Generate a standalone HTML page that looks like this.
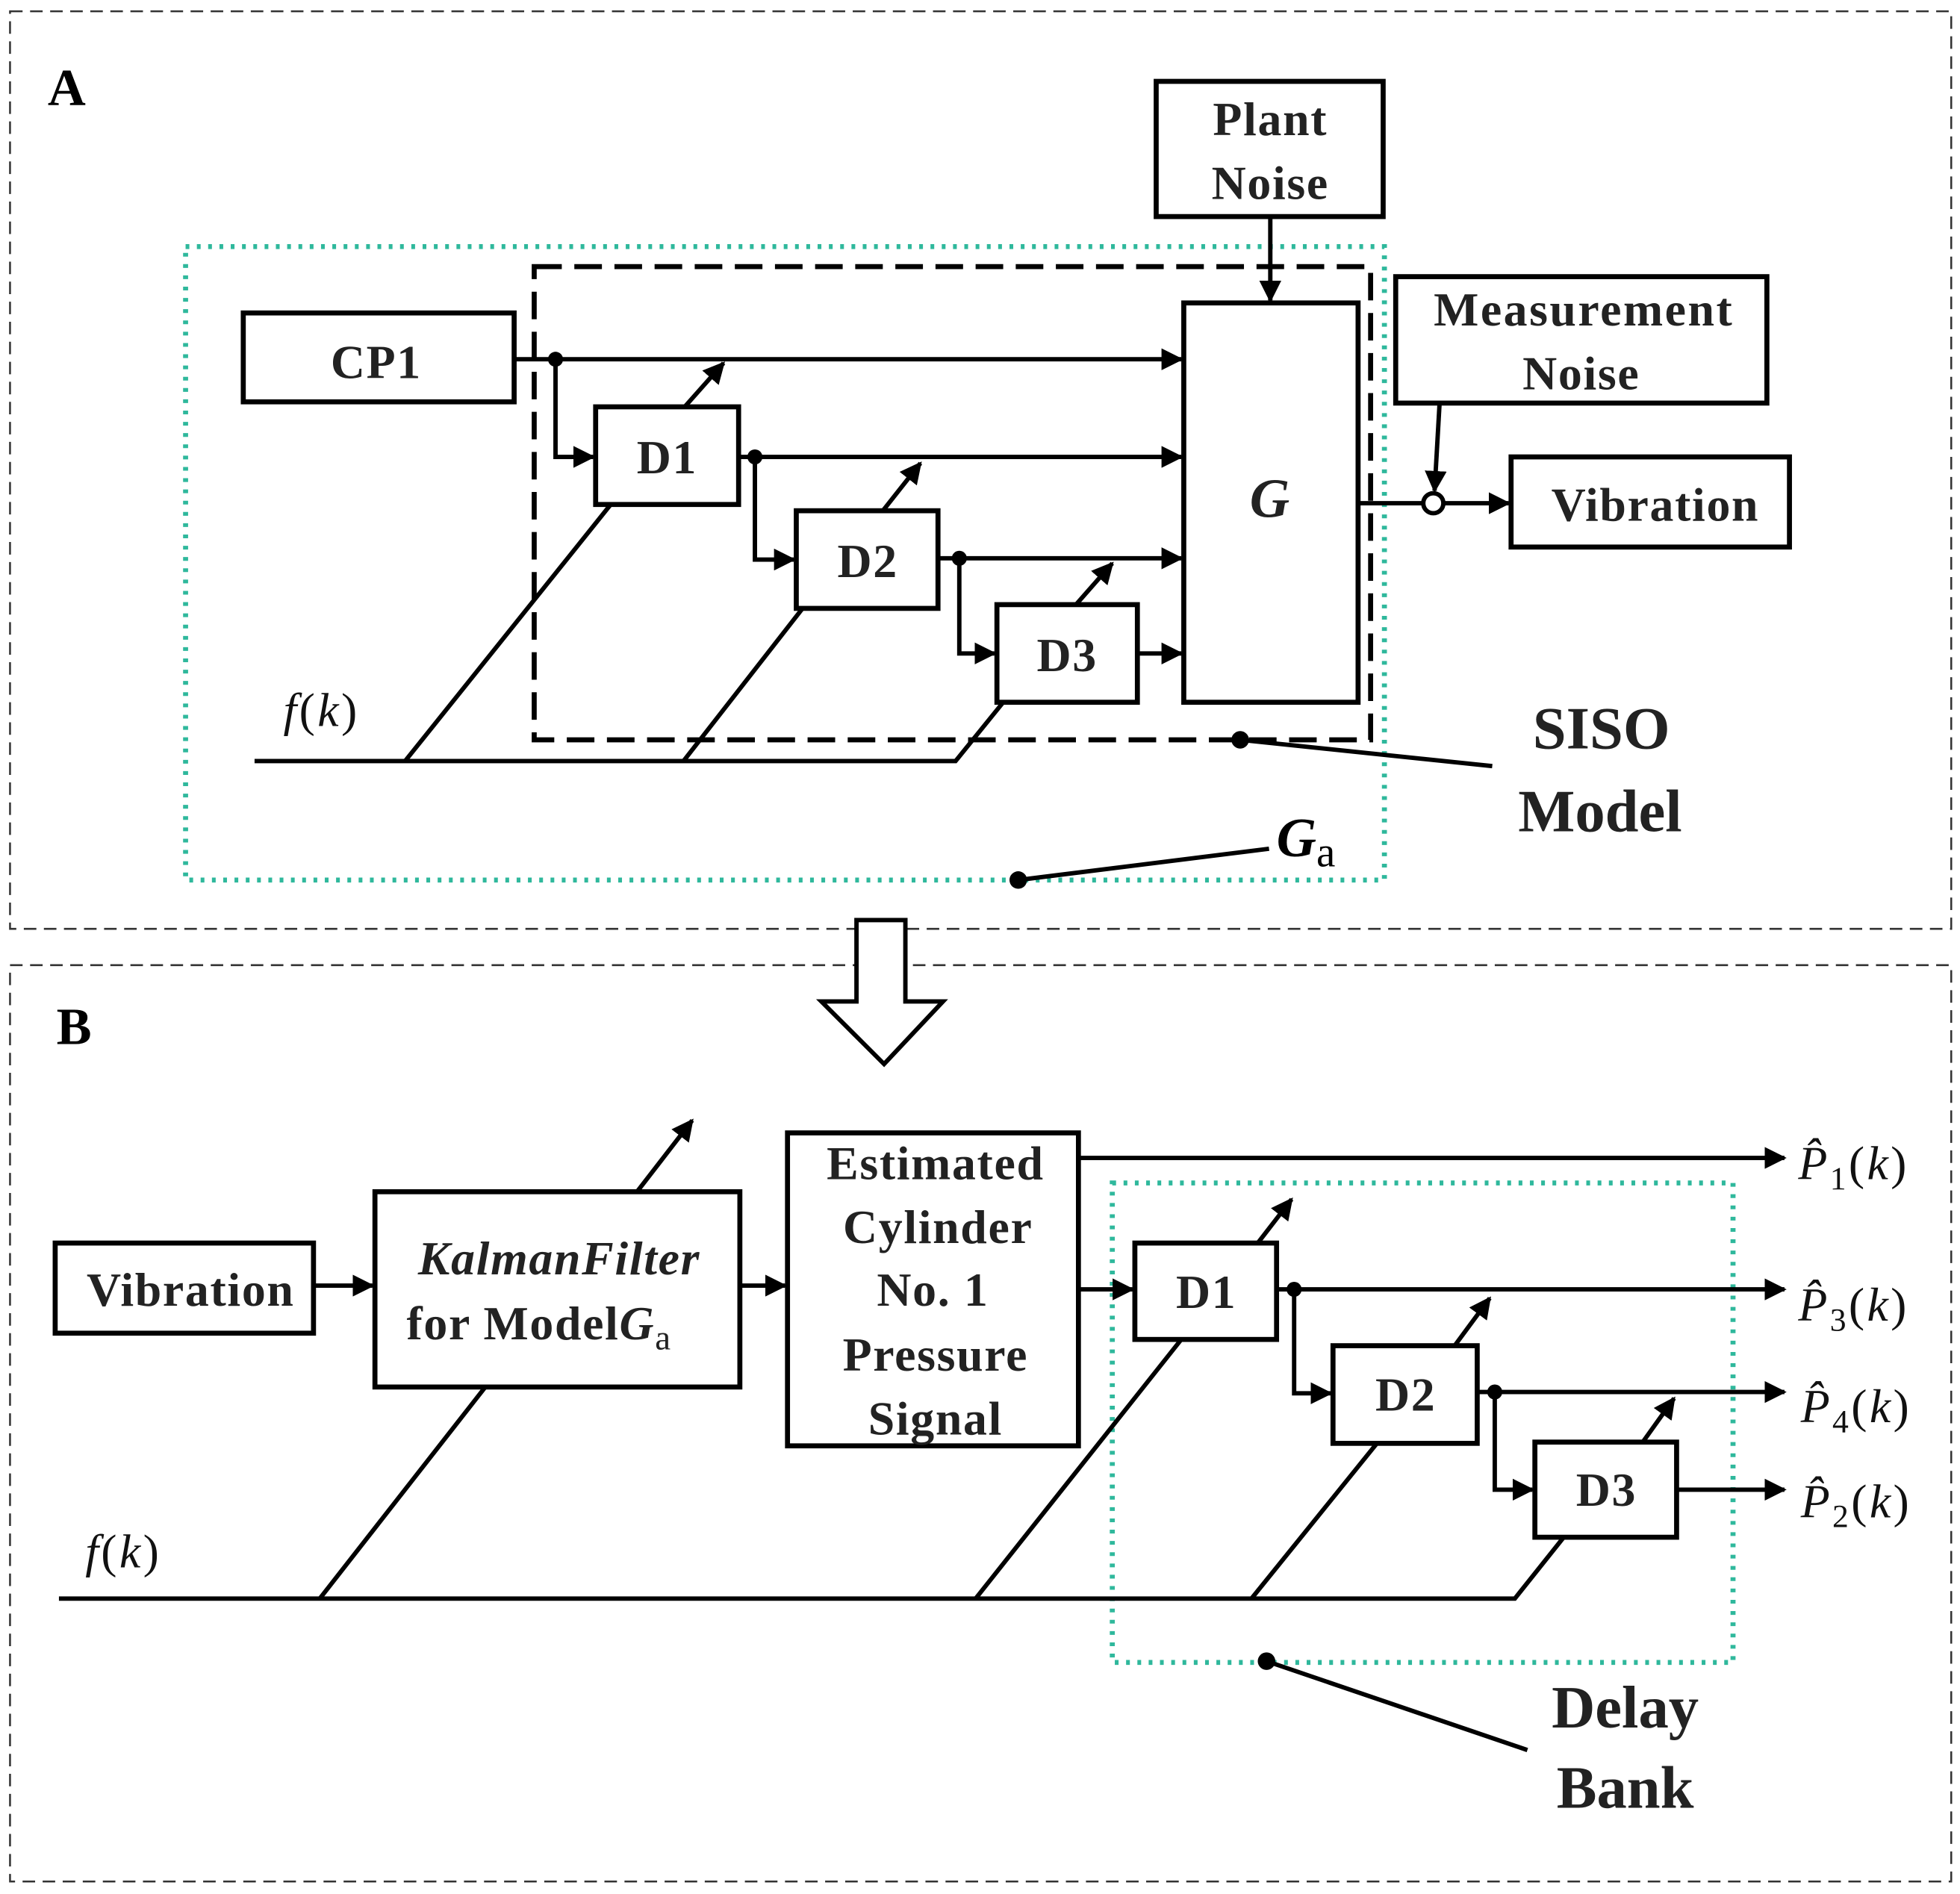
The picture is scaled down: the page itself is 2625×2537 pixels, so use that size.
<!DOCTYPE html>
<html><head><meta charset="utf-8"><style>
html,body{margin:0;padding:0;background:#fff;}
svg{display:block;}
text{font-family:"Liberation Serif",serif;font-weight:bold;fill:#222;}
.m{font-family:"Liberation Serif",serif;font-weight:normal;font-style:italic;fill:#111;}
</style></head><body>
<svg width="2625" height="2537" viewBox="0 0 1563 1513" preserveAspectRatio="none" xmlns="http://www.w3.org/2000/svg">
<defs>
<marker id="ar" viewBox="0 0 10 10" refX="9" refY="5" markerWidth="5" markerHeight="5" orient="auto" markerUnits="strokeWidth">
<path d="M0,0 L10,5 L0,10 z" fill="#000"/></marker>
</defs>
<g fill="none" stroke="#000">
<rect x="8" y="9" width="1548" height="733" stroke-width="1.5" stroke-dasharray="10,6" stroke="#333"/>
<rect x="8" y="771" width="1548" height="732" stroke-width="1.5" stroke-dasharray="10,6" stroke="#333"/>
<rect x="148" y="197" width="956" height="506" stroke="#2fb89c" stroke-width="4" stroke-dasharray="3,6"/>
<rect x="887" y="945" width="495" height="383" stroke="#2fb89c" stroke-width="4" stroke-dasharray="3,6"/>
<rect x="426" y="213" width="667" height="378" stroke-width="4" stroke-dasharray="22,10"/>
<g stroke-width="4">
<rect x="922" y="65" width="181" height="108"/>
<rect x="194" y="250" width="216" height="71"/>
<rect x="475" y="325" width="114" height="78"/>
<rect x="635" y="408" width="113" height="78"/>
<rect x="795" y="483" width="112" height="78"/>
<rect x="944" y="242" width="139" height="319"/>
<rect x="1113" y="221" width="296" height="101"/>
<rect x="1205" y="365" width="222" height="72"/>
<rect x="44" y="993" width="206" height="72"/>
<rect x="299" y="952" width="291" height="156"/>
<rect x="628" y="905" width="232" height="250"/>
<rect x="905" y="993" width="113" height="77"/>
<rect x="1063" y="1075" width="115" height="78"/>
<rect x="1224" y="1152" width="113" height="76"/>
</g>
<g stroke-width="3.5" marker-end="url(#ar)">
<path d="M410,287 H942"/>
<path d="M443,287 V365 H473"/>
<path d="M546,325 L577,290"/>
<path d="M589,365 H942"/>
<path d="M602,365 V447 H633"/>
<path d="M704,408 L734,370"/>
<path d="M748,446 H942"/>
<path d="M765,446 V522 H793"/>
<path d="M858,483 L887,450"/>
<path d="M907,522 H942"/>
<path d="M1013,173 V240"/>
<path d="M1148,322 L1144,392"/>
<path d="M1151,402 H1203"/>
<path d="M250,1027 H297"/>
<path d="M508,952 L552,895"/>
<path d="M590,1027 H626"/>
<path d="M860,925 H1423"/>
<path d="M860,1030 H903"/>
<path d="M1003,993 L1030,958"/>
<path d="M1018,1030 H1423"/>
<path d="M1032,1030 V1113 H1061"/>
<path d="M1160,1075 L1188,1037"/>
<path d="M1178,1112 H1423"/>
<path d="M1192,1112 V1190 H1222"/>
<path d="M1310,1152 L1335,1117"/>
<path d="M1337,1190 H1423"/>
</g>
<g stroke-width="3.5">
<path d="M1083,402 H1135"/>
<circle cx="1143" cy="402" r="8" fill="#fff"/>
<path d="M203,608 H762 L800,561"/>
<path d="M323,608 L487,403"/>
<path d="M545,608 L640,486"/>
<path d="M47,1277 H1208 L1247,1228"/>
<path d="M255,1277 L387,1108"/>
<path d="M778,1277 L942,1070"/>
<path d="M998,1277 L1098,1153"/>
<path d="M989,591 L1190,612"/>
<path d="M812,703 L1012,678"/>
<path d="M1010,1327 L1218,1398"/>
</g>
<path d="M683,735 H722 V800 H752 L705,850 L655,800 H683 Z" stroke-width="3.5" fill="#fff"/>
</g>
<g fill="#000">
<circle cx="443" cy="287" r="6"/><circle cx="602" cy="365" r="6"/><circle cx="765" cy="446" r="6"/>
<circle cx="1032" cy="1030" r="6"/><circle cx="1192" cy="1112" r="6"/>
<circle cx="989" cy="591" r="7"/><circle cx="812" cy="703" r="7"/><circle cx="1010" cy="1327" r="7"/>
</g>
<text x="38" y="84" font-size="42" style="fill:#000">A</text>
<text x="45" y="834" font-size="42" style="fill:#000">B</text>
<g font-size="38" text-anchor="middle" letter-spacing="1">
<text x="1013" y="108">Plant</text><text x="1013" y="159">Noise</text>
<text x="300" y="302">CP1</text>
<text x="532" y="378">D1</text><text x="692" y="461">D2</text><text x="851" y="536">D3</text>
<text x="1013" y="413" font-style="italic" font-size="44">G</text>
<text x="1263" y="260" letter-spacing="1.5">Measurement</text><text x="1261" y="311">Noise</text>
<text x="1320" y="416">Vibration</text>
<text x="152" y="1043">Vibration</text>
<text x="446" y="1018" font-style="italic">KalmanFilter</text>
<text x="430" y="1070">for Model<tspan font-style="italic">G</tspan><tspan font-size="28" dy="8" font-weight="normal">a</tspan></text>
<text x="746" y="942">Estimated</text><text x="748" y="993">Cylinder</text><text x="744" y="1043">No. 1</text><text x="746" y="1095">Pressure</text><text x="746" y="1146">Signal</text>
<text x="962" y="1045">D1</text><text x="1121" y="1127">D2</text><text x="1281" y="1203">D3</text>
</g>
<g font-size="48" text-anchor="middle" style="fill:#000">
<text x="1277" y="598">SISO</text><text x="1276" y="664">Model</text>
<text x="1296" y="1380">Delay</text><text x="1296" y="1444">Bank</text>
</g>
<text x="1018" y="684" font-size="44" font-style="italic" style="fill:#000">G<tspan font-size="34" font-style="normal" font-weight="normal" dy="8">a</tspan></text>
<g font-size="38" class="m" letter-spacing="2">
<text class="m" x="226" y="580">f<tspan font-style="normal">(</tspan>k<tspan font-style="normal">)</tspan></text>
<text class="m" x="68" y="1252">f<tspan font-style="normal">(</tspan>k<tspan font-style="normal">)</tspan></text>
<text class="m" x="1434" y="942">P̂<tspan font-size="26" font-style="normal" dy="8">1</tspan><tspan font-style="normal" dy="-8">(</tspan>k<tspan font-style="normal">)</tspan></text>
<text class="m" x="1434" y="1055">P̂<tspan font-size="26" font-style="normal" dy="8">3</tspan><tspan font-style="normal" dy="-8">(</tspan>k<tspan font-style="normal">)</tspan></text>
<text class="m" x="1436" y="1136">P̂<tspan font-size="26" font-style="normal" dy="8">4</tspan><tspan font-style="normal" dy="-8">(</tspan>k<tspan font-style="normal">)</tspan></text>
<text class="m" x="1436" y="1212">P̂<tspan font-size="26" font-style="normal" dy="8">2</tspan><tspan font-style="normal" dy="-8">(</tspan>k<tspan font-style="normal">)</tspan></text>
</g>
</svg>
</body></html>
